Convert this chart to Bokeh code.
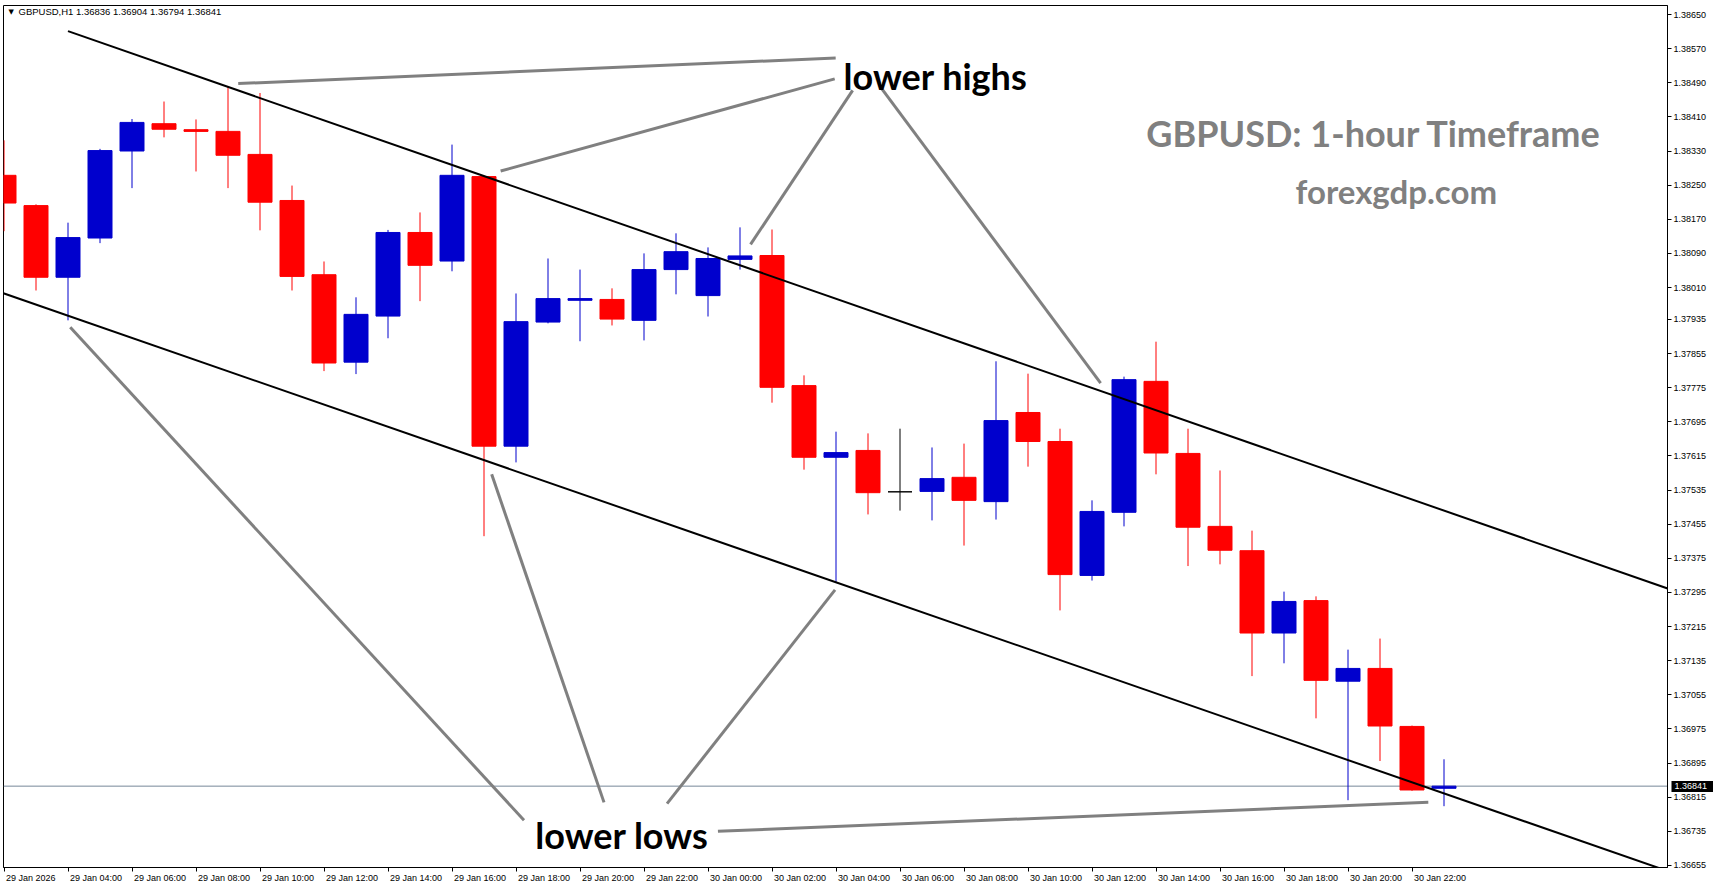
import pandas as pd
from bokeh.plotting import figure
from bokeh.models import (Range1d, FixedTicker, NumeralTickFormatter, CustomJSTickFormatter,
                          Label, Span, ColumnDataSource, LinearAxis)
from bokeh.embed import file_html
from bokeh.resources import INLINE

# ---------------- data ----------------
symbol = "GBPUSD"
timeframe = "H1"
bar_times = pd.date_range("2026-01-29 02:00", periods=46, freq="h")

open_ = [1.38273, 1.38202, 1.38034, 1.38126, 1.38330, 1.38394, 1.38380, 1.38376, 1.38322, 1.38214,
         1.38040, 1.37835, 1.37943, 1.38139, 1.38072, 1.38270, 1.37638, 1.37929, 1.37980, 1.37982,
         1.37933, 1.38052, 1.37991, 1.38076, 1.38085, 1.37780, 1.37612, 1.37628, 1.37531, 1.37532,
         1.37565, 1.37508, 1.37717, 1.37649, 1.37335, 1.37483, 1.37790, 1.37621, 1.37450, 1.37393,
         1.37200, 1.37276, 1.37087, 1.37117, 1.36981, 1.36836]
high = [1.38355, 1.38205, 1.38162, 1.38335, 1.38405, 1.38446, 1.38404, 1.38480, 1.38466, 1.38249,
        1.38071, 1.37987, 1.38145, 1.38186, 1.38345, 1.38272, 1.37996, 1.38078, 1.38052, 1.38008,
        1.38090, 1.38137, 1.38104, 1.38151, 1.38146, 1.37804, 1.37672, 1.37668, 1.37679, 1.37635,
        1.37644, 1.37837, 1.37808, 1.37679, 1.37511, 1.37801, 1.37883, 1.37679, 1.37581, 1.37440,
        1.37297, 1.37286, 1.37161, 1.37187, 1.36983, 1.36904]
low = [1.38142, 1.38003, 1.37933, 1.38114, 1.38243, 1.38362, 1.38282, 1.38243, 1.38144, 1.38003,
       1.37814, 1.37807, 1.37891, 1.37978, 1.38048, 1.37427, 1.37600, 1.37926, 1.37884, 1.37921,
       1.37886, 1.37994, 1.37942, 1.38052, 1.37740, 1.37583, 1.37320, 1.37478, 1.37487, 1.37464,
       1.37405, 1.37466, 1.37590, 1.37253, 1.37323, 1.37450, 1.37572, 1.37357, 1.37361, 1.37099,
       1.37129, 1.37000, 1.36808, 1.36900, 1.36830, 1.36794]
close = [1.38208, 1.38034, 1.38127, 1.38331, 1.38397, 1.38381, 1.38376, 1.38320, 1.38210, 1.38036,
         1.37833, 1.37947, 1.38139, 1.38062, 1.38273, 1.37638, 1.37930, 1.37984, 1.37984, 1.37936,
         1.38052, 1.38094, 1.38078, 1.38084, 1.37776, 1.37612, 1.37623, 1.37529, 1.37531, 1.37562,
         1.37511, 1.37698, 1.37649, 1.37337, 1.37485, 1.37794, 1.37622, 1.37448, 1.37394, 1.37200,
         1.37274, 1.37089, 1.37117, 1.36982, 1.36832, 1.36841]

price_ticks = [1.38650, 1.38570, 1.38490, 1.38410, 1.38330, 1.38250, 1.38170, 1.38090, 1.38010,
               1.37935, 1.37855, 1.37775, 1.37695, 1.37615, 1.37535, 1.37455, 1.37375, 1.37295,
               1.37215, 1.37135, 1.37055, 1.36975, 1.36895, 1.36815, 1.36735, 1.36655]

time_tick_bars = [0, 2, 4, 6, 8, 10, 12, 14, 16, 18, 20, 22, 24, 26, 28, 30, 32, 34, 36, 38, 40, 42, 44]
time_tick_labels = ["29 Jan 2026", "29 Jan 04:00", "29 Jan 06:00", "29 Jan 08:00", "29 Jan 10:00",
                    "29 Jan 12:00", "29 Jan 14:00", "29 Jan 16:00", "29 Jan 18:00", "29 Jan 20:00",
                    "29 Jan 22:00", "30 Jan 00:00", "30 Jan 02:00", "30 Jan 04:00", "30 Jan 06:00",
                    "30 Jan 08:00", "30 Jan 10:00", "30 Jan 12:00", "30 Jan 14:00", "30 Jan 16:00",
                    "30 Jan 18:00", "30 Jan 20:00", "30 Jan 22:00"]

# trend channel anchors (bar index, price)
upper_channel_x = [2, 45]
upper_channel_y = [1.38611, 1.37487]
lower_channel_x = [0, 45]
lower_channel_y = [1.37996, 1.36824]

# pointer lines of the annotations (bar index, price)
pointer_x0 = [7.32, 15.52, 23.33, 27.41, 2.07, 15.24, 25.97, 22.31]
pointer_y0 = [1.38488, 1.38283, 1.38111, 1.38478, 1.37917, 1.37572, 1.37301, 1.36735]
pointer_x1 = [25.99, 25.96, 26.52, 34.27, 16.25, 18.75, 20.72, 44.51]
pointer_y1 = [1.38548, 1.38499, 1.38472, 1.37786, 1.36761, 1.36803, 1.36800, 1.36803]

annot_text = ["lower highs", "lower lows"]
annot_x = [29.11, 19.31]
annot_y = [1.38505, 1.36727]

title_text = "GBPUSD: 1-hour Timeframe"
site_text = "forexgdp.com"
title_pos = (42.81, 1.38372)
site_pos = (43.51, 1.38237)

# ---------------- layout ----------------
W, H = 1713, 888
BL, BR, BT, BB = 3, 46, 5, 21
bar_px = 32.0
x_start = -0.5 / bar_px
x_end = x_start + (W - BL - BR) / bar_px
y_end = 1.386711
y_start = 1.366503
FONT = "Liberation Sans"
AXIS_FS = 9

p = figure(width=W, height=H, output_backend="svg", toolbar_location=None,
           x_range=Range1d(x_start, x_end), y_range=Range1d(y_start, y_end),
           y_axis_location="right", x_axis_location="below", title=None)
p.min_border = 0
p.min_border_left = BL
p.min_border_right = BR
p.min_border_top = BT
p.min_border_bottom = BB
p.xgrid.visible = False
p.ygrid.visible = False
p.outline_line_color = "black"
p.outline_line_width = 1
p.background_fill_color = "white"
p.border_fill_color = "white"

# ----- price scale (right) -----
ya = p.yaxis[0]
ya.ticker = FixedTicker(ticks=price_ticks)
ya.formatter = NumeralTickFormatter(format="0.00000")
ya.major_tick_out = 4
ya.major_tick_in = 0
ya.minor_tick_out = 0
ya.minor_tick_in = 0
ya.major_label_standoff = 2
ya.axis_line_color = "black"
ya.major_tick_line_color = "black"
ya.major_label_text_font = FONT
ya.major_label_text_font_size = "%dpx" % AXIS_FS
ya.major_label_text_color = "black"

# current price marker on the price scale: a second right axis pulled back over the scale,
# its (thick) tick draws the black box and its label the white price text
scale_w = 4 + 2 + (6 * 0.556 + 0.278) * AXIS_FS
bid_axis = LinearAxis(ticker=FixedTicker(ticks=[close[-1]]),
                      formatter=NumeralTickFormatter(format="0.00000"))
bid_axis.axis_line_color = None
bid_axis.major_tick_line_color = "black"
bid_axis.major_tick_line_width = 11
bid_axis.major_tick_line_cap = "butt"
bid_axis.major_tick_in = int(round(scale_w - 1))
bid_axis.major_tick_out = 4
bid_axis.minor_tick_out = 0
bid_axis.minor_tick_in = 0
bid_axis.major_label_text_font = FONT
bid_axis.major_label_text_font_size = "%dpx" % AXIS_FS
bid_axis.major_label_text_color = "white"
bid_axis.major_label_standoff = int(round(4 - scale_w - 4))
p.add_layout(bid_axis, "right")

# ----- time scale (below): tick marks on the frame, labels left-aligned after each tick -----
xa = p.xaxis[0]
xa.ticker = FixedTicker(ticks=time_tick_bars)
xa.formatter = CustomJSTickFormatter(code="return ''")
xa.major_tick_out = 4
xa.major_tick_in = 0
xa.minor_tick_out = 0
xa.minor_tick_in = 0
xa.major_label_standoff = 0
xa.axis_line_color = "black"
xa.major_tick_line_color = "black"
xa.major_label_text_font_size = "1px"

char_w = {d: 0.556 for d in "0123456789"}
char_w.update({" ": 0.278, ":": 0.278, "J": 0.5, "a": 0.556, "n": 0.556})


def text_px(s):
    return sum(char_w.get(ch, 0.556) for ch in s) * AXIS_FS


label_centers = [b + (2 + text_px(t) / 2) / bar_px for b, t in zip(time_tick_bars, time_tick_labels)]
time_axis = LinearAxis(ticker=FixedTicker(ticks=label_centers),
                       major_label_overrides={c: t for c, t in zip(label_centers, time_tick_labels)})
time_axis.axis_line_color = None
time_axis.major_tick_line_color = None
time_axis.major_tick_out = 0
time_axis.major_tick_in = 0
time_axis.minor_tick_out = 0
time_axis.minor_tick_in = 0
time_axis.major_label_standoff = 1
time_axis.major_label_text_font = FONT
time_axis.major_label_text_font_size = "%dpx" % AXIS_FS
time_axis.major_label_text_color = "black"
p.add_layout(time_axis, "below")

# bid line
p.add_layout(Span(location=close[-1], dimension="width", line_color="#778899",
                  line_width=1, level="underlay"))

# candles
idx = list(range(len(open_)))
colors = ["#0000CD" if c > o else ("#FF0000" if c < o else "black") for o, c in zip(open_, close)]
src = ColumnDataSource(dict(x=idx, o=open_, h=high, l=low, c=close,
                            top=[max(o, c) for o, c in zip(open_, close)],
                            bot=[min(o, c) for o, c in zip(open_, close)],
                            col=colors))
p.segment(x0="x", y0="l", x1="x", y1="h", line_color="col", line_width=1, source=src)
p.vbar(x="x", width=24 / bar_px, top="top", bottom="bot", fill_color="col",
       line_color="col", line_width=1, source=src)


def extend(ax, ay, x_from, x_to):
    m = (ay[1] - ay[0]) / (ax[1] - ax[0])
    return [x_from, x_to], [ay[0] + m * (x_from - ax[0]), ay[0] + m * (x_to - ax[0])]


ux, uy = extend(upper_channel_x, upper_channel_y, upper_channel_x[0], x_end + 1)
lx, ly = extend(lower_channel_x, lower_channel_y, x_start - 1, x_end + 1)
p.line(ux, uy, line_color="black", line_width=2)
p.line(lx, ly, line_color="black", line_width=2)

p.segment(x0=pointer_x0, y0=pointer_y0, x1=pointer_x1, y1=pointer_y1,
          line_color="#808080", line_width=3)

for t, x, y in zip(annot_text, annot_x, annot_y):
    p.add_layout(Label(x=x, y=y, text=t, text_align="center", text_baseline="alphabetic",
                       text_font="Lato", text_font_style="bold", text_font_size="36px",
                       text_color="black"))

p.add_layout(Label(x=title_pos[0], y=title_pos[1], text=title_text, text_align="center",
                   text_baseline="alphabetic", text_font="Lato", text_font_style="bold",
                   text_font_size="36px", text_color="#808080"))
p.add_layout(Label(x=site_pos[0], y=site_pos[1], text=site_text, text_align="center",
                   text_baseline="alphabetic", text_font="Lato", text_font_style="bold",
                   text_font_size="33px", text_color="#808080"))

# header
header = "%s,%s  %.5f %.5f %.5f %.5f" % (symbol, timeframe, open_[-1], high[-1], low[-1], close[-1])
p.add_layout(Label(x=x_start, y=y_end, text="\u25BC", x_offset=5, y_offset=-6,
                   text_align="left", text_baseline="middle", text_font="DejaVu Sans",
                   text_font_size="7px", text_color="black"))
p.add_layout(Label(x=x_start, y=y_end, text=header, x_offset=15, y_offset=-6,
                   text_align="left", text_baseline="middle", text_font=FONT,
                   text_font_size="9.5px", text_color="black"))

open("out.html", "w").write(file_html(p, INLINE))
